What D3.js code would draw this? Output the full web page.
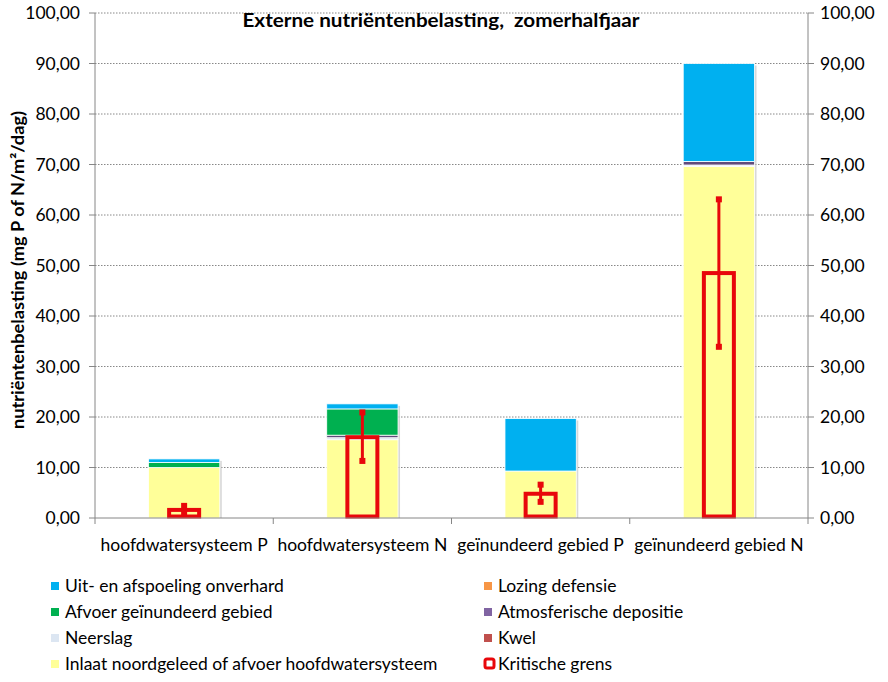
<!DOCTYPE html>
<html><head><meta charset="utf-8">
<script src="https://cdn.jsdelivr.net/npm/d3@7"></script>
<style>
body{margin:0;background:#fff;}
svg{display:block;font-family:Lato,"Open Sans",sans-serif;}
</style></head>
<body><svg id="c" width="888" height="682"></svg>
<script>
const categories = ["hoofdwatersysteem P","hoofdwatersysteem N","geïnundeerd gebied P","geïnundeerd gebied N"];
const inlaat   = [10.0, 15.5, 9.3, 69.6];
const kwel     = [0, 0, 0, 0];
const neerslag = [0, 0.4, 0, 0.3];
const atmos    = [0, 0.5, 0, 0.7];
const afvoer   = [1.0, 5.2, 0, 0];
const lozing   = [0, 0, 0, 0];
const uit      = [0.7, 1.0, 10.4, 19.4];
const kritisch = [1.6, 16.0, 4.8, 48.5];
const errLow   = [1.1, 11.3, 3.2, 33.9];
const errHigh  = [2.4, 20.9, 6.6, 63.1];
const yTicks   = [0,10,20,30,40,50,60,70,80,90,100];

const seriesNames = ["Inlaat noordgeleed of afvoer hoofdwatersysteem","Kwel","Neerslag","Atmosferische depositie","Afvoer geïnundeerd gebied","Lozing defensie","Uit- en afspoeling onverhard"];
const seriesVals = [inlaat,kwel,neerslag,atmos,afvoer,lozing,uit];
const seriesCols = ["#FFFF99","#C0504D","#DCE6F2","#604A7B","#00B050","#F79646","#00B0F0"];

const svg = d3.select("#c");
const L=95, R=808, T=13, B=518;
const x = d3.scaleBand().domain(categories).range([L,R]).paddingInner(0.6).paddingOuter(0.3);
const xb = d3.scaleBand().domain(categories).range([L,R]);
const y = d3.scaleLinear().domain([0,100]).range([B,T]);
const fmt = v => d3.format(".2f")(v).replace(".",",");

// gridlines
svg.append("g").selectAll("line").data(yTicks.filter(d=>d>0)).join("line")
  .attr("x1",L).attr("x2",R).attr("y1",d=>y(d)).attr("y2",d=>y(d))
  .attr("stroke","#888").attr("stroke-width",1).attr("stroke-dasharray","1.5,1.5");

const rows = categories.map((c,i)=>{const o={cat:c}; seriesNames.forEach((s,j)=>o[s]=seriesVals[j][i]); return o;});
const stack = d3.stack().keys(seriesNames)(rows);

// shadow
svg.append("g").selectAll("rect").data(rows).join("rect")
  .attr("x",d=>x(d.cat)+2).attr("width",x.bandwidth())
  .attr("y",d=>y(d3.sum(seriesNames,s=>d[s]))+2)
  .attr("height",d=>B-y(d3.sum(seriesNames,s=>d[s]))-2)
  .attr("fill","#c8c8c8").attr("opacity",0.7);

const gS = svg.append("g");
stack.forEach((layer,j)=>{
  gS.append("g").selectAll("rect").data(layer.filter(d=>d[1]-d[0]>0)).join("rect")
    .attr("x",d=>x(d.data.cat)).attr("width",x.bandwidth())
    .attr("y",d=>y(d[1])).attr("height",d=>y(d[0])-y(d[1]))
    .attr("fill",seriesCols[j]).attr("stroke","#fff").attr("stroke-width",0.8);
});

// critical boxes
const cw = 30;
const gK = svg.append("g");
gK.selectAll("rect").data(kritisch).join("rect")
  .attr("x",(d,i)=>xb(categories[i])+xb.bandwidth()/2-cw/2).attr("width",cw)
  .attr("y",d=>y(d)).attr("height",d=>B-y(d)-1.5)
  .attr("fill","none").attr("stroke","#E8070B").attr("stroke-width",4);
const gE = svg.append("g");
categories.forEach((c,i)=>{
  const cx = xb(c)+xb.bandwidth()/2;
  gE.append("line").attr("x1",cx).attr("x2",cx).attr("y1",y(errLow[i])).attr("y2",y(errHigh[i]))
    .attr("stroke","#E8070B").attr("stroke-width",3);
  [errLow[i],errHigh[i]].forEach(v=>gE.append("rect").attr("x",cx-3).attr("y",y(v)-3).attr("width",6).attr("height",6).attr("fill","#E8070B"));
});

// axes
const axC="#868686";
svg.append("line").attr("x1",L).attr("x2",L).attr("y1",T).attr("y2",B).attr("stroke",axC);
svg.append("line").attr("x1",R).attr("x2",R).attr("y1",T).attr("y2",B).attr("stroke",axC);
svg.append("line").attr("x1",L).attr("x2",R).attr("y1",B).attr("y2",B).attr("stroke",axC);
yTicks.forEach(t=>{
  svg.append("line").attr("x1",L-6).attr("x2",L).attr("y1",y(t)).attr("y2",y(t)).attr("stroke",axC);
  svg.append("line").attr("x1",R).attr("x2",R+6).attr("y1",y(t)).attr("y2",y(t)).attr("stroke",axC);
  svg.append("text").attr("x",L-15).attr("y",y(t)+6).attr("text-anchor","end").attr("font-size",17.5).attr("fill","#000").text(fmt(t));
  svg.append("text").attr("x",R+12).attr("y",y(t)+6).attr("text-anchor","start").attr("font-size",17.5).attr("fill","#000").text(fmt(t));
});
categories.forEach(c=>{
  svg.append("line").attr("x1",xb(c)).attr("x2",xb(c)).attr("y1",B).attr("y2",B+6).attr("stroke",axC);
  svg.append("text").attr("x",xb(c)+xb.bandwidth()/2).attr("y",B+33).attr("text-anchor","middle").attr("font-size",17.5).text(c);
});
svg.append("line").attr("x1",R).attr("x2",R).attr("y1",B).attr("y2",B+6).attr("stroke",axC);

// titles
svg.append("text").attr("x",441).attr("y",27).attr("text-anchor","middle").attr("font-weight","bold").attr("font-size",19).attr("xml:space","preserve")
  .attr("textLength",397).attr("lengthAdjust","spacingAndGlyphs")
  .text("Externe nutriëntenbelasting,  zomerhalfjaar");
svg.append("text").attr("transform","translate(24,270) rotate(-90)").attr("text-anchor","middle").attr("font-weight","bold").attr("font-size",16.5)
  .attr("textLength",318).attr("lengthAdjust","spacingAndGlyphs")
  .text("nutriëntenbelasting (mg P of N/m²/dag)");

// legend
const legend = [
  {n:"Uit- en afspoeling onverhard",c:"#00B0F0",col:0,row:0},
  {n:"Afvoer geïnundeerd gebied",c:"#00B050",col:0,row:1},
  {n:"Neerslag",c:"#DCE6F2",col:0,row:2},
  {n:"Inlaat noordgeleed of afvoer hoofdwatersysteem",c:"#FFFF99",col:0,row:3},
  {n:"Lozing defensie",c:"#F79646",col:1,row:0},
  {n:"Atmosferische depositie",c:"#8064A2",col:1,row:1},
  {n:"Kwel",c:"#C0504D",col:1,row:2},
  {n:"Kritische grens",c:null,col:1,row:3}
];
const rowY=[586,612,638,664], colX=[51,484];
legend.forEach(d=>{
  const lx=colX[d.col], ly=rowY[d.row];
  if(d.c) svg.append("rect").attr("x",lx).attr("y",ly-4).attr("width",8).attr("height",8).attr("fill",d.c);
  else svg.append("rect").attr("x",lx+1).attr("y",ly-5).attr("width",9).attr("height",9).attr("rx",2).attr("fill","#fff").attr("stroke","#E8070B").attr("stroke-width",3);
  svg.append("text").attr("x",lx+14).attr("y",ly+6).attr("font-size",17.5).text(d.n);
});
</script></body></html>
